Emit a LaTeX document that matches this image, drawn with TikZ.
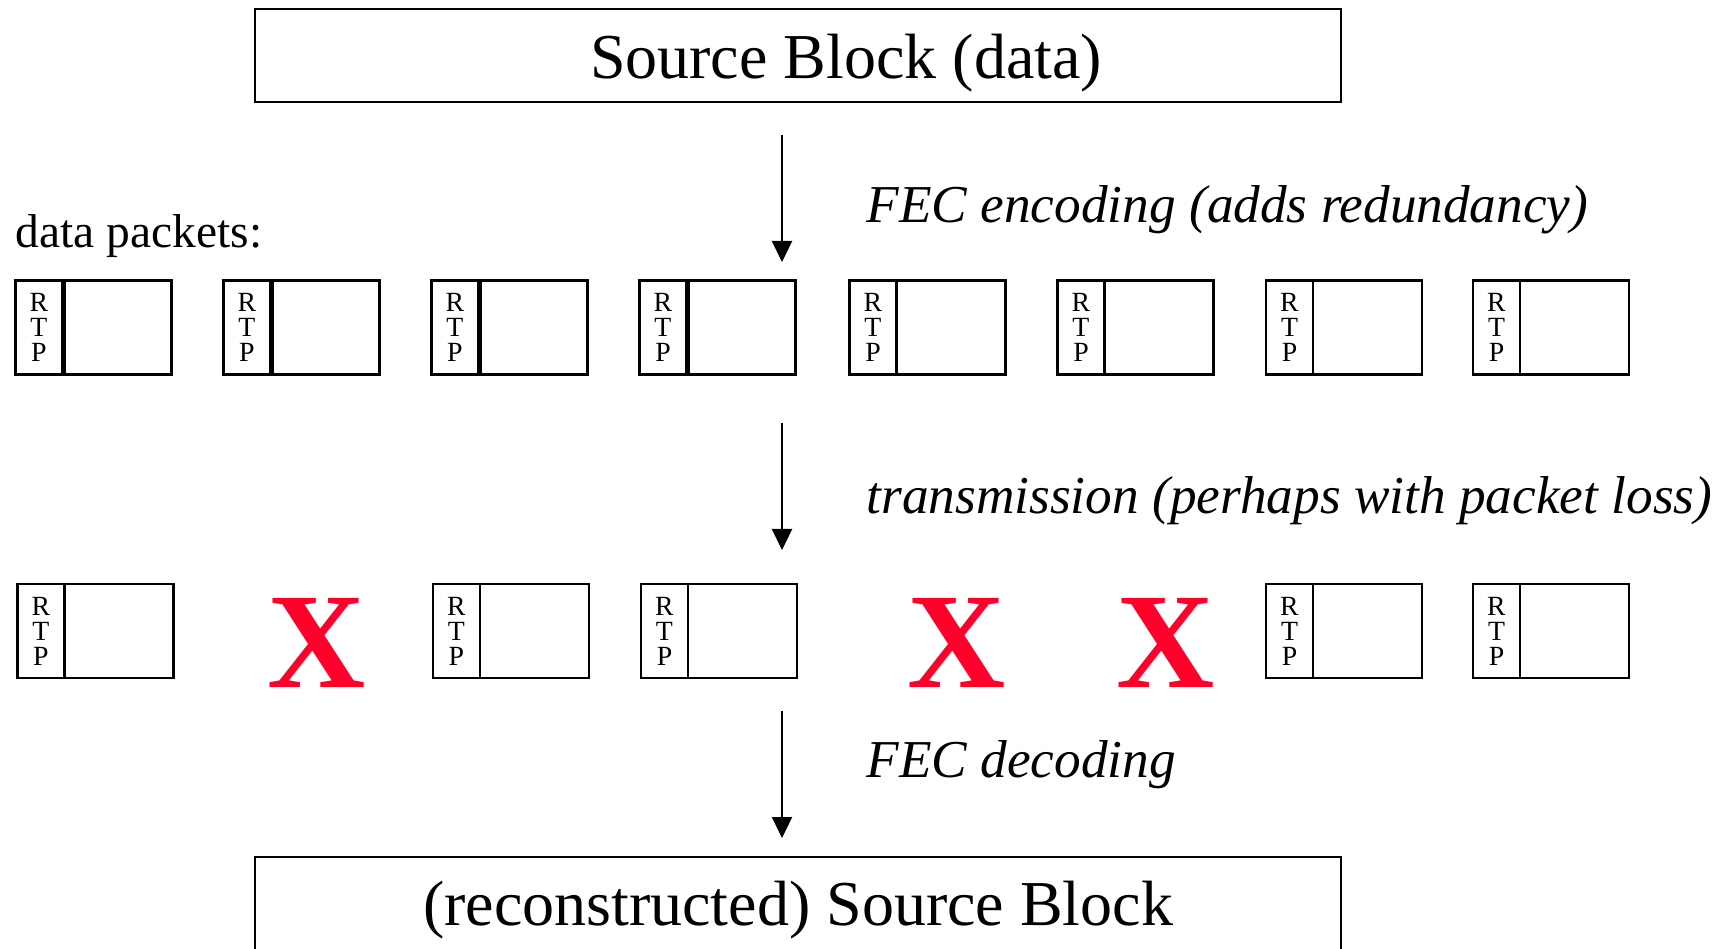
\documentclass[tikz,border=0pt]{standalone}
\usepackage{fontspec}
\setmainfont{Liberation Serif}
\usetikzlibrary{arrows.meta}
\definecolor{lossred}{RGB}{255,0,43}

\tikzset{
    block/.style={draw,line width=0.6pt,minimum width=10.86cm,inner sep=0pt},
    pkt/.style={draw,line width=0.7pt,minimum width=1.56cm,minimum height=0.94cm,inner sep=0pt},
    rtp/.style={draw,line width=0.7pt,minimum width=0.47cm,minimum height=0.94cm,inner sep=0pt,
        align=center,font=\fontsize{7.9}{7.1}\selectfont},
    divider/.style={line width=1.5pt},
    flow/.style={-{Triangle[width=0.2cm,length=0.21cm]},line width=0.65pt},
    lost/.style={text=lossred,inner sep=0pt,font=\fontsize{38.7}{40}\selectfont\bfseries},
    step label/.style={anchor=base west,inner sep=0pt,font=\fontsize{15.15}{18}\selectfont\itshape}
}

\begin{document}
\begin{tikzpicture}[x=0.01cm,y=-0.01cm]
    \path[use as bounding box,clip] (0,0) rectangle (1724,948);

    % source block and its reconstruction
    \node[block,minimum height=0.93cm] (src) at (798,55.5) {};
    \node[anchor=base,inner sep=0pt,font=\fontsize{18.2}{20}\selectfont] (srctext) at (846,78) {Source Block (data)};
    \node[block,minimum height=1.2cm] (rec) at (798,917) {};
    \node[anchor=base,inner sep=0pt,font=\fontsize{18.2}{20}\selectfont] (rectext) at (798,925) {(reconstructed) Source Block};

    \node[anchor=base west,inner sep=0pt,font=\fontsize{13.5}{16}\selectfont] (dplabel) at (15,247) {data packets:};

    % encoded packets
    \foreach \n/\cx in {1/93.5,2/301.5,3/509.5,4/717.5,5/927.5,6/1135.5,7/1344,8/1551}{
        \node[pkt] (t\n) at (\cx,327.5) {};
        \node[rtp,anchor=west] (t\n r) at (t\n.west) {R\\T\\P};
        \ifnum\n<5
            \draw[divider] (t\n r.north east) -- (t\n r.south east);
        \fi
    }

    % received packets
    \foreach \n/\cx in {1/95.5,3/511,4/719,7/1344,8/1551}{
        \node[pkt] (b\n) at (\cx,631) {};
        \node[rtp,anchor=west] (b\n r) at (b\n.west) {R\\T\\P};
    }

    % lost packets
    \foreach \n/\cx in {2/317,5/957,6/1166}{
        \node[lost] (lost\n) at (\cx,643) {X};
    }

    % steps
    \coordinate (enc a) at (782,135);
    \coordinate (enc b) at (782,262);
    \coordinate (tx a) at (782,423);
    \coordinate (tx b) at (782,550);
    \coordinate (dec a) at (782,711);
    \coordinate (dec b) at (782,838);
    \draw[flow] (enc a) -- (enc b);
    \draw[flow] (tx a) -- (tx b);
    \draw[flow] (dec a) -- (dec b);

    \node[step label] (enclabel) at (866,222) {FEC encoding (adds redundancy)};
    \node[step label] (txlabel) at (866,513) {transmission (perhaps with packet loss)};
    \node[step label] (declabel) at (866,777) {FEC decoding};
\end{tikzpicture}
\end{document}
